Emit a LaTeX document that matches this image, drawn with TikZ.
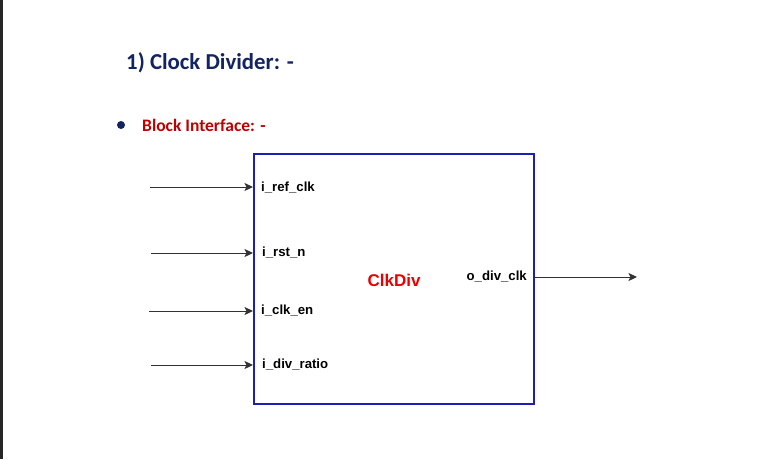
\documentclass[tikz,border=0pt]{standalone}
\usepackage{fontspec}
\setmainfont{Liberation Sans}
\newfontfamily\calibri{Carlito}
\usetikzlibrary{arrows.meta}
\definecolor{navy}{RGB}{18,36,98}
\definecolor{darkred}{RGB}{192,0,0}
\definecolor{boxblue}{RGB}{30,30,180}
\definecolor{clkred}{RGB}{235,0,0}
\definecolor{wire}{RGB}{50,50,50}
\tikzset{
  port/.style={anchor=west, inner sep=0pt, font=\fontsize{13.2}{15}\selectfont\bfseries},
  wirearrow/.style={draw=wire, line width=1pt, -{Stealth[length=8.5pt,width=8pt,inset=2pt]}},
}
\begin{document}
\begin{tikzpicture}[x=1pt,y=-1pt]
\useasboundingbox (0,0) rectangle (768,459);
\fill[white] (0,0) rectangle (768,459);
\fill[black!85] (0,0) rectangle (3,459);
\node[anchor=west, inner sep=0pt, text=navy, font=\calibri\fontsize{22.8}{26}\selectfont\bfseries] (title) at (126,62.5) {1) Clock Divider: -};
\fill[navy] (121,125) circle (4);
\node[anchor=west, inner sep=0pt, text=darkred, font=\calibri\fontsize{17.5}{20}\selectfont\bfseries] (sub) at (142,125) {Block Interface: -};
\node[draw=boxblue, line width=2pt, minimum width=280pt, minimum height=250pt, inner sep=0pt] (box) at (394,279) {};
\node[text=clkred, inner sep=0pt, font=\fontsize{17}{20}\selectfont\bfseries] (name) at (394,280) {ClkDiv};
\node[port] (p1) at (261,188) {i\_ref\_clk};
\node[port] (p2) at (262,253) {i\_rst\_n};
\node[port] (p3) at (261,311) {i\_clk\_en};
\node[port] (p4) at (262,365) {i\_div\_ratio};
\node[port, anchor=east] (po) at (527,277) {o\_div\_clk};
\coordinate (s1) at (150,187);
\coordinate (s2) at (151,253);
\coordinate (s3) at (149,311);
\coordinate (s4) at (151,365);
\coordinate (t0) at (637,277);
\draw[wirearrow] (s1) -- (s1 -| box.west);
\draw[wirearrow] (s2) -- (s2 -| box.west);
\draw[wirearrow] (s3) -- (s3 -| box.west);
\draw[wirearrow] (s4) -- (s4 -| box.west);
\draw[wirearrow] (t0 -| box.east) -- (t0);
\end{tikzpicture}
\end{document}
